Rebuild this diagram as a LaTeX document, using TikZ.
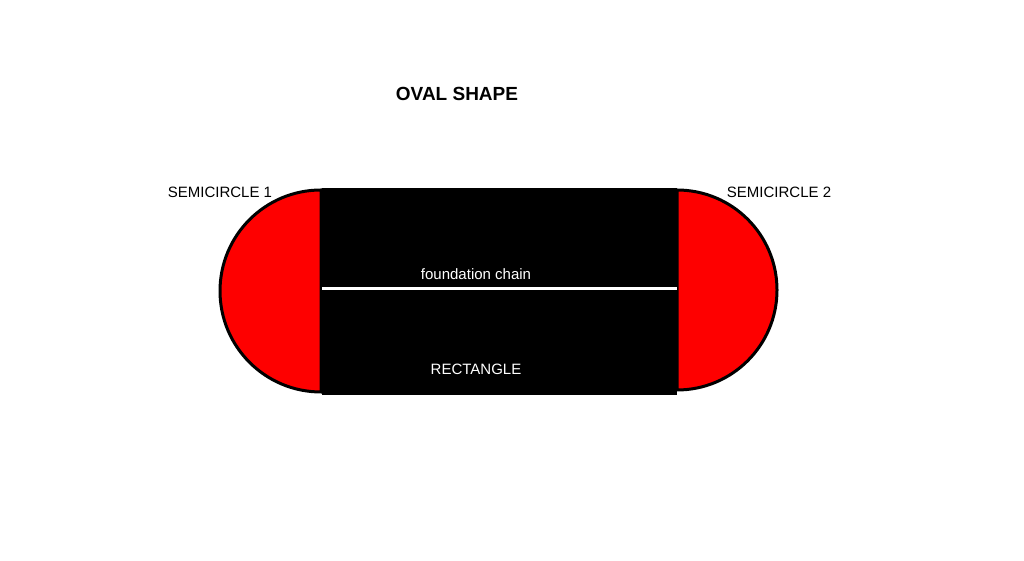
\documentclass[tikz,border=0pt]{standalone}
\usepackage{fontspec}
\setmainfont{Liberation Sans}
\definecolor{ovalred}{HTML}{FE0000}
\begin{document}
\begin{tikzpicture}[x=1pt,y=1pt,
  lbl/.style={font=\fontsize{15}{18}\selectfont, inner sep=0pt},
  wlbl/.style={lbl, text=white}]
\useasboundingbox[fill=white] (0,0) rectangle (1024,561);
% semicircles
\draw[fill=ovalred, line width=3pt] (321,371) arc[start angle=90, end angle=270, radius=101] -- cycle;
\draw[fill=ovalred, line width=3pt] (677,371) arc[start angle=90, end angle=-90, radius=100] -- cycle;
% rectangle
\fill[black] (322,373) rectangle (677,166);
\coordinate (cl) at (322,272);
\coordinate (cr) at (677,272);
\draw[white, line width=3pt] (cl) -- (cr);
% texts
\node[lbl, font=\fontsize{19}{22}\selectfont\bfseries] (title) at (457,467) {OVAL SHAPE};
\node[lbl] (s1) at (220,369) {SEMICIRCLE 1};
\node[lbl] (s2) at (779,369) {SEMICIRCLE 2};
\node[wlbl] (fc) at (476,287) {foundation chain};
\node[wlbl] (rect) at (476,192) {RECTANGLE};
\end{tikzpicture}
\end{document}
